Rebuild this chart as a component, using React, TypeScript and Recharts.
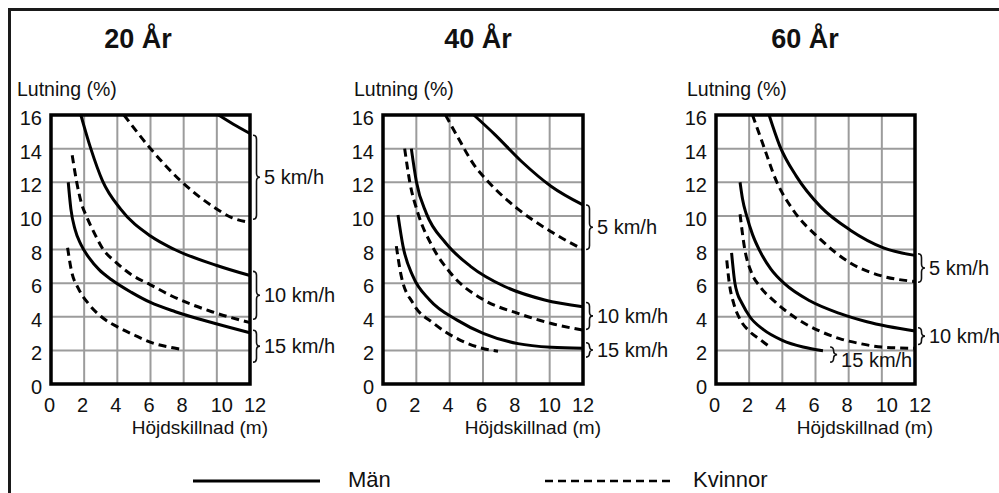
import React from 'react';
import { LineChart, Line, XAxis, YAxis, CartesianGrid, ReferenceArea, Customized } from 'recharts';

// ---------- data ----------
const xTicks = [0, 2, 4, 6, 8, 10, 12];
const yTicks = [0, 2, 4, 6, 8, 10, 12, 14, 16];
const titles = ['20 År', '40 År', '60 År'];
const speedLabels = ['5 km/h', '10 km/h', '15 km/h'];

// 20 år
const men5_20 = [[10.1, 16], [11, 15.45], [12, 14.9]];
const women5_20 = [[4.4, 16], [6, 14], [7.8, 12.1], [9.7, 10.6], [10.9, 9.9], [12, 9.6]];
const men10_20 = [[1.8, 16], [2.4, 14], [3.1, 12.1], [4.2, 10.4], [6, 8.8], [7.45, 8.0], [10, 7.05], [12, 6.45]];
const women10_20 = [[1.28, 13.6], [1.55, 12], [1.85, 10.7], [2.15, 9.95], [2.65, 8.9], [3.15, 8], [3.85, 7.3], [4.85, 6.5], [6, 5.9], [7.25, 5.25], [9.7, 4.3], [12, 3.65]];
const men15_20 = [[1.04, 12], [1.2, 10.4], [1.45, 9.2], [1.8, 8.3], [2.3, 7.5], [2.9, 6.8], [3.65, 6.2], [4.85, 5.45], [6, 4.85], [7.5, 4.3], [9.9, 3.6], [12, 3.05]];
const women15_20 = [[1.0, 8.1], [1.24, 6.7], [1.64, 5.7], [2.24, 4.8], [3.04, 4.0], [4.0, 3.4], [5.04, 2.9], [6.24, 2.4], [7.44, 2.14], [7.9, 2.05]];

// 40 år
const men5_40 = [[5.45, 16], [6.7, 14.85], [8.3, 13.25], [10.1, 11.75], [12, 10.65]];
const women5_40 = [[3.75, 16], [4.45, 14.75], [5.45, 13.05], [6.3, 12.05], [8.1, 10.4], [10.1, 9.05], [12, 8.0]];
const men10_40 = [[1.7, 14], [2.0, 12.05], [2.6, 10.15], [3.75, 8.4], [5.25, 7.0], [7.3, 5.8], [9.7, 5.0], [12, 4.6]];
const women10_40 = [[1.3, 14], [1.6, 12.05], [2.1, 10.15], [2.95, 8.2], [4.05, 6.6], [6.05, 5.0], [8.1, 4.2], [10.1, 3.6], [12, 3.2]];
const men15_40 = [[0.9, 10.05], [1.2, 8.2], [1.8, 6.4], [2.8, 5.0], [4.45, 3.8], [6.05, 3.0], [8.1, 2.4], [10.1, 2.18], [12, 2.12]];
const women15_40 = [[0.8, 8.2], [1.1, 6.4], [1.8, 4.8], [3.05, 3.6], [4.65, 2.6], [5.85, 2.15], [6.9, 1.95]];

// 60 år
const men5_60 = [[3.2, 16], [3.85, 14.15], [4.85, 12.35], [6.3, 10.55], [8.1, 9.15], [10.1, 8.1], [12, 7.65]];
const women5_60 = [[2.2, 16], [2.8, 14.35], [3.65, 12.05], [4.65, 10.35], [6.3, 8.6], [8.1, 7.2], [10.1, 6.4], [12, 6.1]];
const men10_60 = [[1.45, 12], [1.6, 11.0], [1.85, 10], [2.2, 8.9], [2.65, 7.9], [3.3, 6.85], [4.15, 5.95], [5.65, 4.95], [7.45, 4.2], [9.1, 3.7], [12, 3.15]];
const women10_60 = [[1.45, 10.1], [1.72, 8.1], [2.15, 6.6], [2.65, 5.8], [3.6, 4.85], [4.85, 3.9], [6.25, 3.15], [7.45, 2.7], [8.7, 2.4], [10, 2.2], [12, 2.12]];
const men15_60 = [[0.94, 7.8], [1.14, 6], [1.3, 5.35], [1.54, 4.85], [2.04, 4.0], [2.84, 3.25], [4, 2.6], [5.25, 2.2], [6.45, 1.98]];
const women15_60 = [[0.65, 7.35], [0.8, 6], [1.05, 4.85], [1.45, 3.85], [2, 3.15], [2.65, 2.65], [3.25, 2.2]];

// brace ranges [x, low, high] per speed
const braces20 = [[12, 9.8, 14.8], [12, 3.85, 6.7], [12, 1.3, 3.2]];
const braces40 = [[12, 8.0, 10.65], [12, 3.25, 4.85], [12, 1.6, 2.45]];
const braces60 = [[12, 6.05, 7.75], [12, 2.35, 3.35], [6.7, 1.3, 2.2]];

// ---------- layout / style ----------
const FONT = '"Liberation Sans", Arial, Helvetica, sans-serif';
const toPts = (a: number[][]) => a.map(([x, y]) => ({ x, y }));

const panels = [
  { title: titles[0], men: [men5_20, men10_20, men15_20], women: [women5_20, women10_20, women15_20], braces: braces20, plotLeft: 51, plotWidth: 199, titleX: 138, lutX: 17, bigTickDx: 5, labelDy: [0, 0, 0] },
  { title: titles[1], men: [men5_40, men10_40, men15_40], women: [women5_40, women10_40, women15_40], braces: braces40, plotLeft: 383, plotWidth: 200, titleX: 478, lutX: 354, bigTickDx: 0, labelDy: [0, 0, 0] },
  { title: titles[2], men: [men5_60, men10_60, men15_60], women: [women5_60, women10_60, women15_60], braces: braces60, plotLeft: 716, plotWidth: 199, titleX: 805, lutX: 687, bigTickDx: 5, labelDy: [0, 0, 5] },
];

const PLOT_TOP = 115;
const PLOT_BOTTOM = 384;
const CH_H = 493;
const LEFT_PAD = 60;
const RIGHT_PAD = 120;
const Y_AXIS_W = 40;
const X_AXIS_H = 30;

const YTick = (props: any) => {
  const { x, y, payload } = props;
  return (
    <text x={x} y={y} dy={10} textAnchor="end" fontSize={20} fontFamily={FONT} fill="#111">
      {payload.value}
    </text>
  );
};

const makeXTick = (bigDx: number) => (props: any) => {
  const { x, y, payload } = props;
  const dx = payload.value >= 10 ? bigDx : -1.5;
  return (
    <text x={x + dx} y={y} dy={28} textAnchor="middle" fontSize={20} fontFamily={FONT} fill="#111">
      {payload.value}
    </text>
  );
};

const braceShape = (label: string, labelDy: number) => (props: any) => {
  const { x, y, width, height } = props;
  const x0 = x + width + 3;
  const yt = y;
  const yb = y + height;
  const mid = (yt + yb) / 2;
  const w = 7;
  const h = w / 2;
  const d = `M ${x0} ${yt} Q ${x0 + h} ${yt} ${x0 + h} ${yt + 4} L ${x0 + h} ${mid - 4} Q ${x0 + h} ${mid} ${x0 + w} ${mid} Q ${x0 + h} ${mid} ${x0 + h} ${mid + 4} L ${x0 + h} ${yb - 4} Q ${x0 + h} ${yb} ${x0} ${yb}`;
  return (
    <g>
      <path d={d} fill="none" stroke="#111" strokeWidth={1.6} />
      <text x={x0 + 11} y={mid + 7 + labelDy} fontSize={20} fontFamily={FONT} fill="#111">
        {label}
      </text>
    </g>
  );
};

const Panel = ({ p }: { p: (typeof panels)[number] }) => {
  const chartLeft = p.plotLeft - LEFT_PAD;
  const width = LEFT_PAD + p.plotWidth + RIGHT_PAD;
  const plotRight = LEFT_PAD + p.plotWidth;
  return (
    <div style={{ position: 'absolute', left: chartLeft, top: 0 }}>
      <LineChart
        width={width}
        height={CH_H}
        margin={{ top: PLOT_TOP, left: LEFT_PAD - Y_AXIS_W, right: RIGHT_PAD, bottom: CH_H - PLOT_BOTTOM - X_AXIS_H }}
      >
        <CartesianGrid stroke="#9c9c9c" strokeWidth={2} />
        <XAxis
          type="number"
          dataKey="x"
          domain={[0, 12]}
          ticks={xTicks}
          height={X_AXIS_H}
          axisLine={false}
          tickLine={false}
          tickSize={0}
          tickMargin={0}
          tick={makeXTick(p.bigTickDx)}
          interval={0}
        />
        <YAxis
          type="number"
          domain={[0, 16]}
          ticks={yTicks}
          width={Y_AXIS_W}
          axisLine={false}
          tickLine={false}
          tickSize={0}
          tickMargin={9}
          tick={<YTick />}
          interval={0}
        />
        {p.men.map((d, i) => (
          <Line key={'m' + i} data={toPts(d)} dataKey="y" type="monotone" stroke="#000" strokeWidth={3} dot={false} activeDot={false} isAnimationActive={false} />
        ))}
        {p.women.map((d, i) => (
          <Line key={'w' + i} data={toPts(d)} dataKey="y" type="monotone" stroke="#000" strokeWidth={3} strokeDasharray="8 5" dot={false} activeDot={false} isAnimationActive={false} />
        ))}
        <ReferenceArea x1={0} x2={12} y1={0} y2={16} fill="none" fillOpacity={0} stroke="#000" strokeWidth={3.5} ifOverflow="visible" />
        {p.braces.map((b, i) => (
          <ReferenceArea
            key={'b' + i}
            x1={b[0] - 0.2}
            x2={b[0]}
            y1={b[1]}
            y2={b[2]}
            ifOverflow="visible"
            shape={braceShape(speedLabels[i], p.labelDy[i])}
          />
        ))}
        <Customized
          component={() => (
            <g fontFamily={FONT} fill="#111">
              <text x={p.titleX - chartLeft} y={48} textAnchor="middle" fontSize={27} fontWeight="bold">
                {p.title}
              </text>
              <text x={p.lutX - chartLeft} y={96} fontSize={19.5}>
                Lutning (%)
              </text>
              <text x={plotRight + 18} y={434} textAnchor="end" fontSize={19}>
                Höjdskillnad (m)
              </text>
            </g>
          )}
        />
      </LineChart>
    </div>
  );
};

export default function App() {
  return (
    <div style={{ position: 'absolute', left: 0, top: 0, width: 999, height: 493, overflow: 'hidden', background: '#fff' }}>
      <div style={{ position: 'absolute', left: 8, top: 8, width: 1200, height: 800, borderTop: '3px solid #1a1a1a', borderLeft: '3px solid #1a1a1a' }} />
      {panels.map((p, i) => (
        <Panel key={i} p={p} />
      ))}
      <svg style={{ position: 'absolute', left: 0, top: 455 }} width={999} height={38}>
        <line x1={193} x2={320} y1={26} y2={26} stroke="#000" strokeWidth={3} />
        <text x={348} y={32} fontSize={22} fontFamily={FONT} fill="#111">Män</text>
        <line x1={545} x2={673} y1={26} y2={26} stroke="#000" strokeWidth={2.5} strokeDasharray="8 5" />
        <text x={693} y={32} fontSize={22} fontFamily={FONT} fill="#111">Kvinnor</text>
      </svg>
    </div>
  );
}
